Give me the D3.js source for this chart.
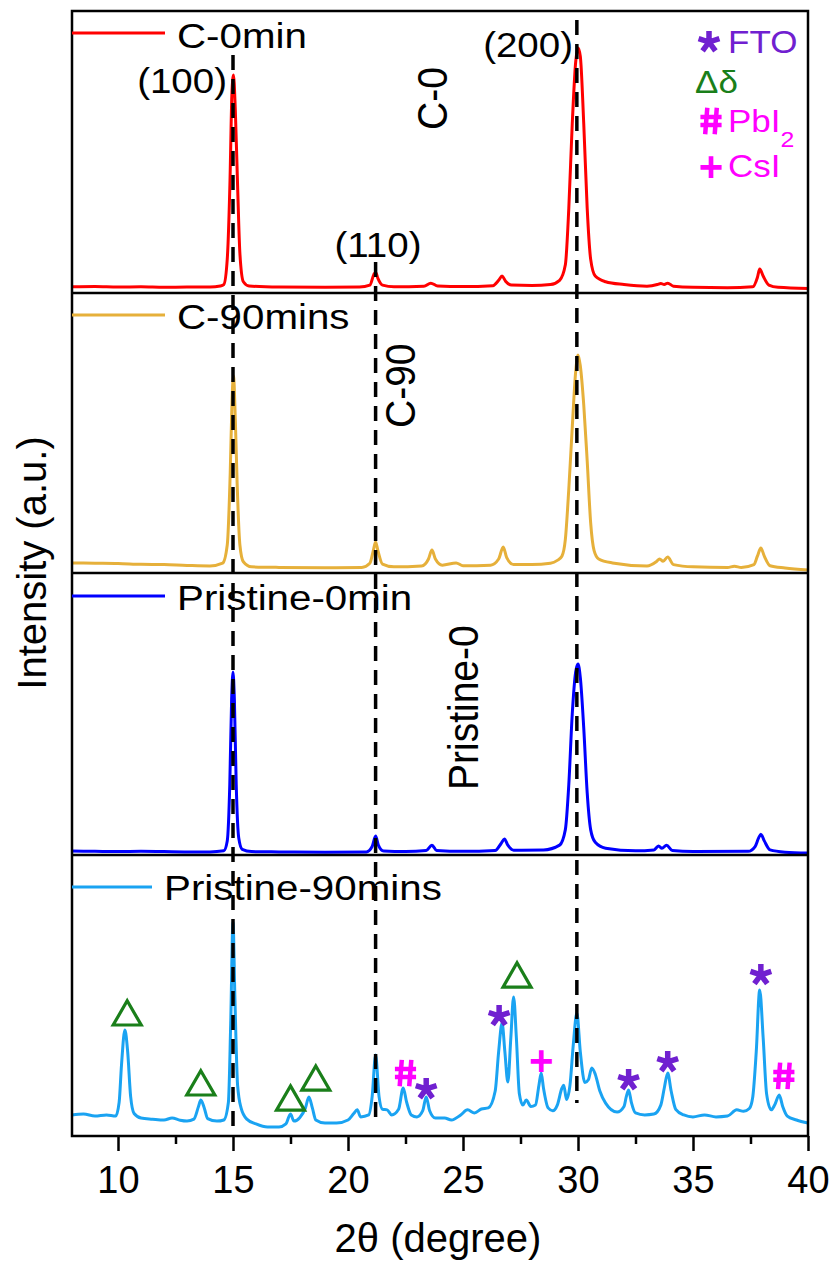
<!DOCTYPE html>
<html>
<head>
<meta charset="utf-8">
<script src="https://cdn.jsdelivr.net/npm/d3@7"></script>
<style>
  body { margin: 0; background: #fff; }
  svg { display: block; font-family: "Liberation Sans", Arial, sans-serif; }
</style>
</head>
<body>
<svg id="chart" width="835" height="1271"></svg>
<script>

/**
 * DATA  (2theta in degree, intensity in a.u. per panel, 0..100)
 */
var xTicks = [10, 15, 20, 25, 30, 35, 40];
var xMinorTicks = [12.5, 17.5, 22.5, 27.5, 32.5, 37.5];

var seriesNames = ["C-0min", "C-90mins", "Pristine-0min", "Pristine-90mins"];

var c0min = [[8,2.2],[9,2.3],[10,2.1],[11,2.2],[12,2.0],[13,2.1],[14,2.1],[14.45,2.5],[14.6,3],[14.75,12],[14.87,40],[14.95,70],[15.02,77.3],[15.1,65],[15.2,38],[15.3,14],[15.45,4],[15.7,2.5],[17,2.1],[19,2.0],[20.5,2.1],[20.95,2.8],[21.12,6.5],[21.2,7.4],[21.3,5.2],[21.5,2.8],[22,2.2],[23.3,2.4],[23.6,3.5],[23.9,2.5],[25,2.3],[26.3,2.6],[26.55,4.5],[26.7,6.0],[26.85,4.2],[27.1,2.8],[28,2.7],[28.8,3.0],[29.2,4.5],[29.45,10],[29.6,30],[29.75,60],[29.9,82],[30.0,86.9],[30.1,84],[30.25,60],[30.4,30],[30.55,12],[30.75,6],[31.2,4],[32,3],[33,2.4],[33.45,3.0],[33.6,3.4],[33.75,3.0],[33.9,3.5],[34.15,2.4],[35,2.0],[36.5,1.9],[37.6,2.2],[37.8,5.5],[37.9,8.5],[38.05,6],[38.3,2.8],[38.7,2.0],[40,1.6]];

var c90mins = [[8,3.6],[9,3.5],[10,3.4],[11,3.1],[12,3.0],[13,2.7],[14,2.5],[14.55,3.5],[14.75,10],[14.88,36],[14.96,62],[15.02,70.4],[15.1,55],[15.18,32],[15.3,10],[15.45,4],[15.8,2.2],[17,2.0],[19,1.9],[20.6,2.0],[20.95,3.5],[21.1,8],[21.2,11.1],[21.3,8],[21.5,3.2],[22,2.2],[23.2,2.5],[23.5,5],[23.65,8.2],[23.8,5],[24.1,2.8],[24.7,3.6],[25,2.6],[26.2,2.8],[26.55,5],[26.75,9.3],[26.9,5.5],[27.2,3.0],[28,3.0],[28.8,3.5],[29.1,4.5],[29.3,6],[29.45,12],[29.6,30],[29.75,52],[29.9,72],[30.0,77.9],[30.1,74],[30.25,60],[30.4,40],[30.55,18],[30.7,8],[30.9,5],[31.5,3.6],[33,2.5],[33.4,4],[33.55,5.0],[33.7,4.2],[33.9,5.7],[34.15,3],[35,2.2],[36.5,2.0],[36.8,2.4],[37.1,2.0],[37.65,3],[37.8,6],[37.95,8.9],[38.1,6],[38.35,2.6],[39,1.8],[40,1.1]];

var p0min = [[8,1.4],[9,1.3],[10,1.2],[11,1.3],[12,1.2],[13,1.1],[14,1.1],[14.6,1.5],[14.75,5],[14.86,25],[14.94,55],[15.0,64.9],[15.06,55],[15.14,25],[15.25,6],[15.4,2],[15.8,1.2],[17,1.1],[19,1.0],[20.8,1.1],[21.05,3],[21.2,6.7],[21.32,3.5],[21.55,1.4],[22.5,1.2],[23.4,1.6],[23.65,3.5],[23.85,1.6],[25,1.3],[26.4,1.6],[26.65,4],[26.8,5.7],[26.95,3.5],[27.2,1.7],[28.5,1.8],[29.2,3.5],[29.45,9],[29.6,25],[29.75,50],[29.9,65],[30.0,67.7],[30.1,63],[30.25,45],[30.4,22],[30.55,9],[30.75,4.5],[31.2,2.4],[32.5,1.5],[33.3,1.8],[33.5,3.2],[33.65,2.4],[33.85,3.5],[34.1,1.6],[35,1.2],[37.4,1.3],[37.7,3],[37.85,6],[37.95,7.4],[38.1,5],[38.35,1.8],[39,1.0],[40,0.7]];

var p90mins = [[8,7.5],[8.5,7.8],[9,7.1],[9.5,7.5],[9.9,7.1],[10.05,12],[10.15,25],[10.3,37.7],[10.42,30],[10.55,14],[10.7,8],[11,6.4],[11.5,6.0],[12,5.7],[12.35,6.4],[12.7,5.6],[13,5.3],[13.3,6.0],[13.5,10.5],[13.6,12.8],[13.75,10],[13.9,6.2],[14.3,5.3],[14.6,5.7],[14.8,12],[14.9,40],[15.0,76.2],[15.08,50],[15.2,18],[15.35,10],[15.6,6],[16,4.3],[16.5,3.2],[17,3.2],[17.3,4.3],[17.5,7.8],[17.65,5.3],[17.9,6.5],[18.15,10],[18.3,13.9],[18.45,10],[18.6,5.7],[19,4.6],[19.5,4.6],[20,5.7],[20.25,8],[20.4,9.3],[20.55,6.8],[20.9,7.5],[21.05,14],[21.2,28.8],[21.35,14],[21.5,9.5],[21.7,9.3],[21.9,7.5],[22.2,9.5],[22.4,17.1],[22.55,12],[22.75,7.5],[23,6.8],[23.25,9],[23.4,13.9],[23.55,9],[23.8,6.4],[24.2,6.4],[24.5,5.7],[24.9,7.5],[25.2,9.3],[25.5,8.2],[25.8,9.6],[26.1,10],[26.4,16],[26.55,30],[26.7,40.2],[26.82,30],[26.95,19.2],[27.08,35],[27.2,49.5],[27.32,35],[27.45,15],[27.6,11],[27.75,12.8],[27.95,10.5],[28.15,11],[28.3,18],[28.4,22.4],[28.5,17],[28.7,10],[28.9,9],[29.1,11],[29.3,17],[29.38,18.1],[29.5,13],[29.65,18],[29.8,33],[29.95,43.8],[30.1,30],[30.3,19],[30.45,20],[30.6,24.2],[30.75,22],[30.95,16],[31.2,11.7],[31.7,8.5],[32.0,10.5],[32.1,14],[32.2,16.4],[32.32,12],[32.5,8.2],[32.9,7.5],[33.3,7.8],[33.6,11],[33.75,17],[33.9,22.4],[34.05,16],[34.25,9.5],[34.6,7.5],[35,6.8],[35.5,7.5],[36,6.8],[36.5,7.1],[36.9,9.3],[37.2,8.8],[37.45,9.8],[37.6,14],[37.75,30],[37.9,52],[38.05,35],[38.2,15],[38.4,9.3],[38.55,11],[38.75,14.6],[38.9,10.5],[39.1,7.1],[39.5,5.7],[40,4.6]];

var allSeries = [c0min, c90mins, p0min, p90mins];

// reference reflections (dashed) and their Miller indices
var refLines = [15.0, 21.2, 29.95];
var refLabels = ["(100)", "(110)", "(200)"];

// phase markers on Pristine-90mins: [2theta, intensity]
var deltaMarks = [[10.4, 43.8], [13.6, 18.9], [17.5, 13.5], [18.6, 20.6], [27.35, 57.3]];
var ftoMarks = [[23.4, 17.1], [26.57, 43.1], [32.2, 20.3], [33.9, 26.7], [37.95, 57.7]];
var pbi2Marks = [[22.5, 22.4], [38.95, 21.4]];
var csiMarks = [[28.4, 27.0]];

var sideLabels = ["C-0", "C-90", "Pristine-0"];


/**
 * STYLE / LAYOUT
 */
var colors = ["#ff0000", "#e6b03a", "#0000ff", "#1aa3f2"];
var purple = "#7020d0", green = "#1a7f1a", magenta = "#ff00ff";

var left = 72, right = 808;
var edges = [11, 293, 573, 855, 1136];

var svg = d3.select("#chart");

var x = d3.scaleLinear().domain([8, 40]).range([left, right]);
var yScales = seriesNames.map(function(n, i) {
    return d3.scaleLinear().domain([0, 100]).range([edges[i + 1], edges[i]]);
});

function txt(g, px, py, str, size, opts) {
    opts = opts || {};
    var tr = "translate(" + px + "," + py + ")";
    if (opts.rotate) tr += " rotate(-90) scale(1," + (opts.sx || 1) + ")";
    else tr += " scale(" + (opts.sx || 1) + ",1)";
    return g.append("text")
        .attr("transform", tr)
        .attr("font-size", size)
        .attr("text-anchor", opts.anchor || "start")
        .attr("font-weight", opts.bold ? "bold" : null)
        .attr("fill", opts.color || "#000")
        .text(str);
}

// 5-armed asterisk like the one of the font
var asterisk5 = {
    draw: function(ctx, size) {
        var r = Math.sqrt(size) / 2;
        for (var k = 0; k < 5; k++) {
            var a = -Math.PI / 2 + k * 2 * Math.PI / 5;
            ctx.moveTo(0, 0);
            ctx.lineTo(r * Math.cos(a), r * Math.sin(a));
        }
    }
};
// hash sign, slightly slanted
var hash = {
    draw: function(ctx, size) {
        var h = Math.sqrt(size) / 2, w = h * 0.8;
        ctx.moveTo(-w * 0.35, -h); ctx.lineTo(-w * 0.55, h);
        ctx.moveTo(w * 0.55, -h); ctx.lineTo(w * 0.35, h);
        ctx.moveTo(-w, -h * 0.3); ctx.lineTo(w, -h * 0.3);
        ctx.moveTo(-w, h * 0.3); ctx.lineTo(w, h * 0.3);
    }
};
var star = d3.symbol().type(asterisk5).size(480);
var hashSym = d3.symbol().type(hash).size(700);

function drawSym(sym, px, py, color, sw) {
    svg.append("path")
        .attr("d", sym)
        .attr("transform", "translate(" + px + "," + py + ")")
        .attr("fill", "none").attr("stroke", color)
        .attr("stroke-width", sw).attr("stroke-linecap", "butt");
}

// Draw SPECTRA
allSeries.forEach(function(data, i) {
    var y = yScales[i];
    var line = d3.line()
        .x(function(d) { return x(d[0]); })
        .y(function(d) { return y(d[1]); })
        .curve(d3.curveMonotoneX);
    svg.append("path")
        .datum(data)
        .attr("d", line)
        .attr("fill", "none")
        .attr("stroke", colors[i])
        .attr("stroke-width", 3)
        .attr("stroke-linejoin", "round");
});

// frame + panel separators
svg.append("rect")
    .attr("x", left).attr("y", edges[0])
    .attr("width", right - left).attr("height", edges[4] - edges[0])
    .attr("fill", "none").attr("stroke", "#000").attr("stroke-width", 2.5);
svg.selectAll(".sep").data(edges.slice(1, 4)).enter().append("line")
    .attr("x1", left).attr("x2", right)
    .attr("y1", function(d) { return d; }).attr("y2", function(d) { return d; })
    .attr("stroke", "#000").attr("stroke-width", 2.5);

// dashed reference lines (drawn over the curves)
var dashSpan = [[55, 1128], [262, 1120], [20, 1103]];
svg.selectAll(".ref").data(refLines).enter().append("line")
    .attr("x1", function(d) { return x(d); }).attr("x2", function(d) { return x(d); })
    .attr("y1", function(d, i) { return dashSpan[i][0]; })
    .attr("y2", function(d, i) { return dashSpan[i][1]; })
    .attr("stroke", "#000").attr("stroke-width", 3.5)
    .attr("stroke-dasharray", "15,9");

// x axis
var axisG = svg.append("g").attr("transform", "translate(0," + edges[4] + ")");
axisG.call(d3.axisBottom(x).tickValues(xTicks).tickSize(15).tickPadding(15));
axisG.append("g").call(d3.axisBottom(x).tickValues(xMinorTicks).tickSize(8).tickFormat(""));
axisG.selectAll(".domain").remove();
axisG.selectAll("line").attr("stroke", "#000").attr("stroke-width", 2.5);
axisG.selectAll("text")
    .attr("font-size", 38)
    .attr("font-family", "'Liberation Sans', Arial, sans-serif")
    .attr("fill", "#000");

// axis titles
txt(svg, 438, 1252, "2θ (degree)", 40, { anchor: "middle" });
txt(svg, 46, 563, "Intensity (a.u.)", 40, { anchor: "middle", rotate: true });

// per panel legends
var legendLineEnd = [165, 165, 165, 152];
var legendDy = [[22, 37], [22, 36], [23, 37], [32, 45]];
seriesNames.forEach(function(n, i) {
    var top = edges[i];
    svg.append("line")
        .attr("x1", left).attr("x2", legendLineEnd[i])
        .attr("y1", top + legendDy[i][0]).attr("y2", top + legendDy[i][0])
        .attr("stroke", colors[i]).attr("stroke-width", 3);
    txt(svg, legendLineEnd[i] + 12, top + legendDy[i][1], n, 36, { sx: 1.12 });
});

// Miller index labels
txt(svg, 227, 93, refLabels[0], 35, { anchor: "end", sx: 1.1 });
txt(svg, 378, 257, refLabels[1], 35, { anchor: "middle", sx: 1.1 });
txt(svg, 573, 57, refLabels[2], 35, { anchor: "end", sx: 1.1 });

// rotated sample labels
txt(svg, 447, 130, sideLabels[0], 39, { rotate: true, sx: 1.1 });
txt(svg, 415, 428, sideLabels[1], 39, { rotate: true, sx: 1.1 });
txt(svg, 478, 790, sideLabels[2], 39, { rotate: true, sx: 1.1 });

// phase markers on the bottom panel
var y4 = yScales[3];
var tri = d3.symbol().type(d3.symbolTriangle).size(340);
svg.selectAll(".delta").data(deltaMarks).enter().append("path")
    .attr("d", tri)
    .attr("transform", function(d) { return "translate(" + x(d[0]) + "," + (y4(d[1]) + 4) + ")"; })
    .attr("fill", "none").attr("stroke", green).attr("stroke-width", 3.2);

ftoMarks.forEach(function(d) { drawSym(star, x(d[0]), y4(d[1]) + 1, purple, 5.5); });
pbi2Marks.forEach(function(d) { drawSym(hashSym, x(d[0]), y4(d[1]), magenta, 4.5); });
csiMarks.forEach(function(d) {
    txt(svg, x(d[0]), y4(d[1]) + 15, "+", 42, { anchor: "middle", bold: true, color: magenta });
});

// phase legend (top right)
drawSym(star, 709, 42, purple, 5.5);
txt(svg, 728, 53, "FTO", 31, { color: purple, sx: 1.13 });
txt(svg, 695, 93, "Δδ", 31, { color: green, sx: 1.13 });
drawSym(hashSym, 711, 121, magenta, 4.5);
var pb = txt(svg, 728, 132, "PbI", 31, { color: magenta, sx: 1.13 });
pb.append("tspan").attr("font-size", 22).attr("dy", 15).text("2");
txt(svg, 711, 166 + 15, "+", 42, { anchor: "middle", bold: true, color: magenta });
txt(svg, 728, 177, "CsI", 31, { color: magenta, sx: 1.13 });

</script>
</body>
</html>
